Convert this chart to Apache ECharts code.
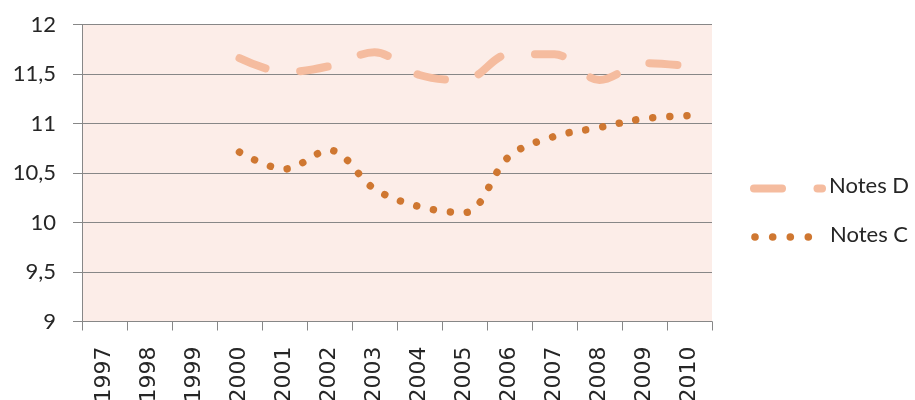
<!DOCTYPE html>
<html>
<head>
<meta charset="utf-8">
<script src="https://cdn.jsdelivr.net/npm/echarts@6/dist/echarts.min.js"></script>
<style>
  html, body { margin: 0; padding: 0; background: #ffffff; }
  #chart { width: 915px; height: 400px; }
</style>
</head>
<body>
<div id="chart"></div>
<script>
// Years on the category axis
const years = ['1997', '1998', '1999', '2000', '2001', '2002', '2003', '2004', '2005', '2006', '2007', '2008', '2009', '2010'];
// Average marks per year (no data before 2000)
const notesD = [null, null, null, 11.66, 11.52, 11.58, 11.72, 11.49, 11.44, 11.70, 11.70, 11.44, 11.61, 11.58];
const notesC = [null, null, null, 10.71, 10.54, 10.73, 10.34, 10.16, 10.10, 10.67, 10.87, 10.96, 11.05, 11.08];
// Value axis range
const yMin = 9, yMax = 12, yStep = 0.5;

const colorD = '#F5BC9F';
const colorC = '#CF7731';
const gridColor = '#878787';
const textColor = '#262626';

const chart = echarts.init(document.getElementById('chart'), null, { renderer: 'canvas' });

chart.setOption({
  animation: false,
  grid: {
    left: 82, top: 24.5, width: 630, height: 297,
    containLabel: false, outerBoundsMode: 'none',
    show: true, backgroundColor: '#FCEDE8', borderWidth: 0
  },
  xAxis: {
    type: 'category',
    data: years,
    boundaryGap: true,
    axisLine: { lineStyle: { color: gridColor, width: 1 } },
    axisTick: { show: true, length: 9, lineStyle: { color: gridColor } },
    axisLabel: {
      interval: 0, rotate: 90, margin: 25,
      fontFamily: 'DejaVu Sans', fontSize: 22, color: textColor
    },
    splitLine: { show: false }
  },
  yAxis: {
    type: 'value',
    min: yMin, max: yMax, interval: yStep,
    axisLine: { show: true, lineStyle: { color: gridColor, width: 1 } },
    axisTick: { show: true, length: 9, lineStyle: { color: gridColor } },
    axisLabel: {
      margin: 26, fontFamily: 'Lato', fontSize: 22, color: textColor,
      formatter: v => String(v).replace('.', ',')
    },
    splitLine: { show: true, lineStyle: { color: gridColor, width: 1 } }
  },
  series: [
    {
      name: 'Notes D', type: 'line', data: notesD,
      smooth: 0.35, symbol: 'none',
      lineStyle: { color: colorD, width: 8, type: [28, 35], cap: 'round', join: 'round' }
    },
    {
      name: 'Notes C', type: 'line', data: notesC,
      smooth: 0.35, symbol: 'none',
      lineStyle: { color: colorC, width: 7.5, type: [0.01, 17], cap: 'round', join: 'round' }
    }
  ],
  graphic: [
    // Notes D key: long dash followed by a short one
    { type: 'line', shape: { x1: 754, y1: 188.5, x2: 782, y2: 188.5 },
      style: { stroke: colorD, lineWidth: 8, lineCap: 'round' } },
    { type: 'line', shape: { x1: 817.5, y1: 188.5, x2: 822, y2: 188.5 },
      style: { stroke: colorD, lineWidth: 8, lineCap: 'round' } },
    { type: 'text', left: 829, top: 175,
      style: { text: 'Notes D', font: '22px Lato', fill: textColor } },
    // Notes C key: four dots
    { type: 'circle', shape: { cx: 755, cy: 237, r: 3.8 }, style: { fill: colorC } },
    { type: 'circle', shape: { cx: 772.7, cy: 237, r: 3.8 }, style: { fill: colorC } },
    { type: 'circle', shape: { cx: 790.3, cy: 237, r: 3.8 }, style: { fill: colorC } },
    { type: 'circle', shape: { cx: 808.3, cy: 237, r: 3.8 }, style: { fill: colorC } },
    { type: 'text', left: 830, top: 223.5,
      style: { text: 'Notes C', font: '22px Lato', fill: textColor } }
  ]
});
</script>
</body>
</html>
